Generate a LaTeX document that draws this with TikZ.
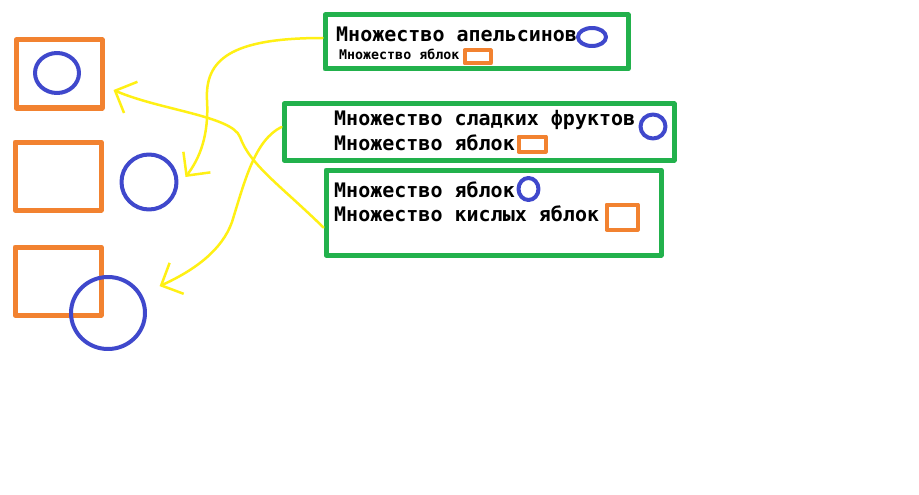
\documentclass[tikz,border=0pt]{standalone}
\usepackage{fontspec}
\setmonofont{DejaVu Sans Mono}
\usetikzlibrary{arrows.meta,shapes.geometric}
\definecolor{setorange}{RGB}{242,130,48}
\definecolor{setblue}{RGB}{63,72,204}
\definecolor{setgreen}{RGB}{34,177,76}
\definecolor{setyellow}{RGB}{255,240,20}
\begin{document}
\begin{tikzpicture}[x=1pt, y=-1pt, line cap=round, line join=round,
  font=\ttfamily\bfseries\fontsize{20}{22}\selectfont,
  gbox/.style={draw=setgreen, line width=5pt, rectangle, inner sep=0pt},
  obox/.style={draw=setorange, line width=5pt, rectangle, inner sep=0pt},
  oval/.style={draw=setblue, line width=4pt, ellipse, inner sep=0pt},
  lbl/.style={anchor=base west, inner sep=0pt},
  yarrow/.style={draw=setyellow, line width=2.5pt, -{Straight Barb[length=17pt,width=34pt]}}]
  \useasboundingbox[fill=white] (0,0) rectangle (919,495);
  % left side
  \node[obox, minimum width=86pt, minimum height=68pt] (r1) at (59,74) {};
  \node[oval, minimum width=44pt, minimum height=40pt] (c1) at (57,73) {};
  \node[obox, minimum width=86pt, minimum height=68pt] (r2) at (58,176) {};
  \node[oval, minimum width=55pt, minimum height=55pt] (c2) at (149,182) {};
  \node[obox, minimum width=86pt, minimum height=68pt] (r3) at (58,281) {};
  \node[oval, minimum width=74pt, minimum height=72pt] (c3) at (108,313) {};
  % right side
  \node[gbox, minimum width=303pt, minimum height=54pt] (gA) at (476.5,42) {};
  \node[lbl] (tA1) at (336,42) {Множество апельсинов};
  \node[oval, minimum width=28pt, minimum height=18pt] (eA) at (592,37) {};
  \node[lbl, font=\ttfamily\bfseries\fontsize{13.3}{15}\selectfont] (tA2) at (339,60) {Множество яблок};
  \node[obox, line width=4pt, minimum width=26pt, minimum height=13pt] (sA) at (477.5,57) {};
  \node[gbox, minimum width=390pt, minimum height=56pt] (gB) at (479,132) {};
  \node[lbl] (tB1) at (334,125) {Множество сладких фруктов};
  \node[lbl] (tB2) at (334,150) {Множество яблок};
  \node[oval, minimum width=25pt, minimum height=24pt] (eB) at (653,126.5) {};
  \node[obox, line width=4pt, minimum width=27pt, minimum height=15pt] (sB) at (532,144) {};
  \node[gbox, minimum width=335pt, minimum height=85pt] (gC) at (493.5,212.5) {};
  \node[lbl] (tC1) at (334,197) {Множество яблок};
  \node[lbl] (tC2) at (334,221) {Множество кислых яблок};
  \node[oval, minimum width=20pt, minimum height=22pt] (eC) at (528.5,189) {};
  \node[obox, line width=4pt, minimum width=31pt, minimum height=25pt] (sC) at (622,217) {};
  % connectors
  \draw[yarrow] ([yshift=4pt]gA.west) .. controls (230,38) and (205,60) .. (207,100)
    .. controls (209,135) and (200,158) .. ([xshift=7pt,yshift=5pt]c2.east);
  \draw[yarrow] ([yshift=-15pt]gC.west) .. controls (280,185) and (250,165) .. (240,137)
    .. controls (232,116) and (160,110) .. ([xshift=9pt,yshift=-16pt]r1.east);
  \draw[yarrow] ([yshift=5pt]gB.west) .. controls (255,140) and (245,180) .. (232,222)
    .. controls (222,250) and (195,270) .. ([xshift=24pt]c3.north east);
\end{tikzpicture}
\end{document}
